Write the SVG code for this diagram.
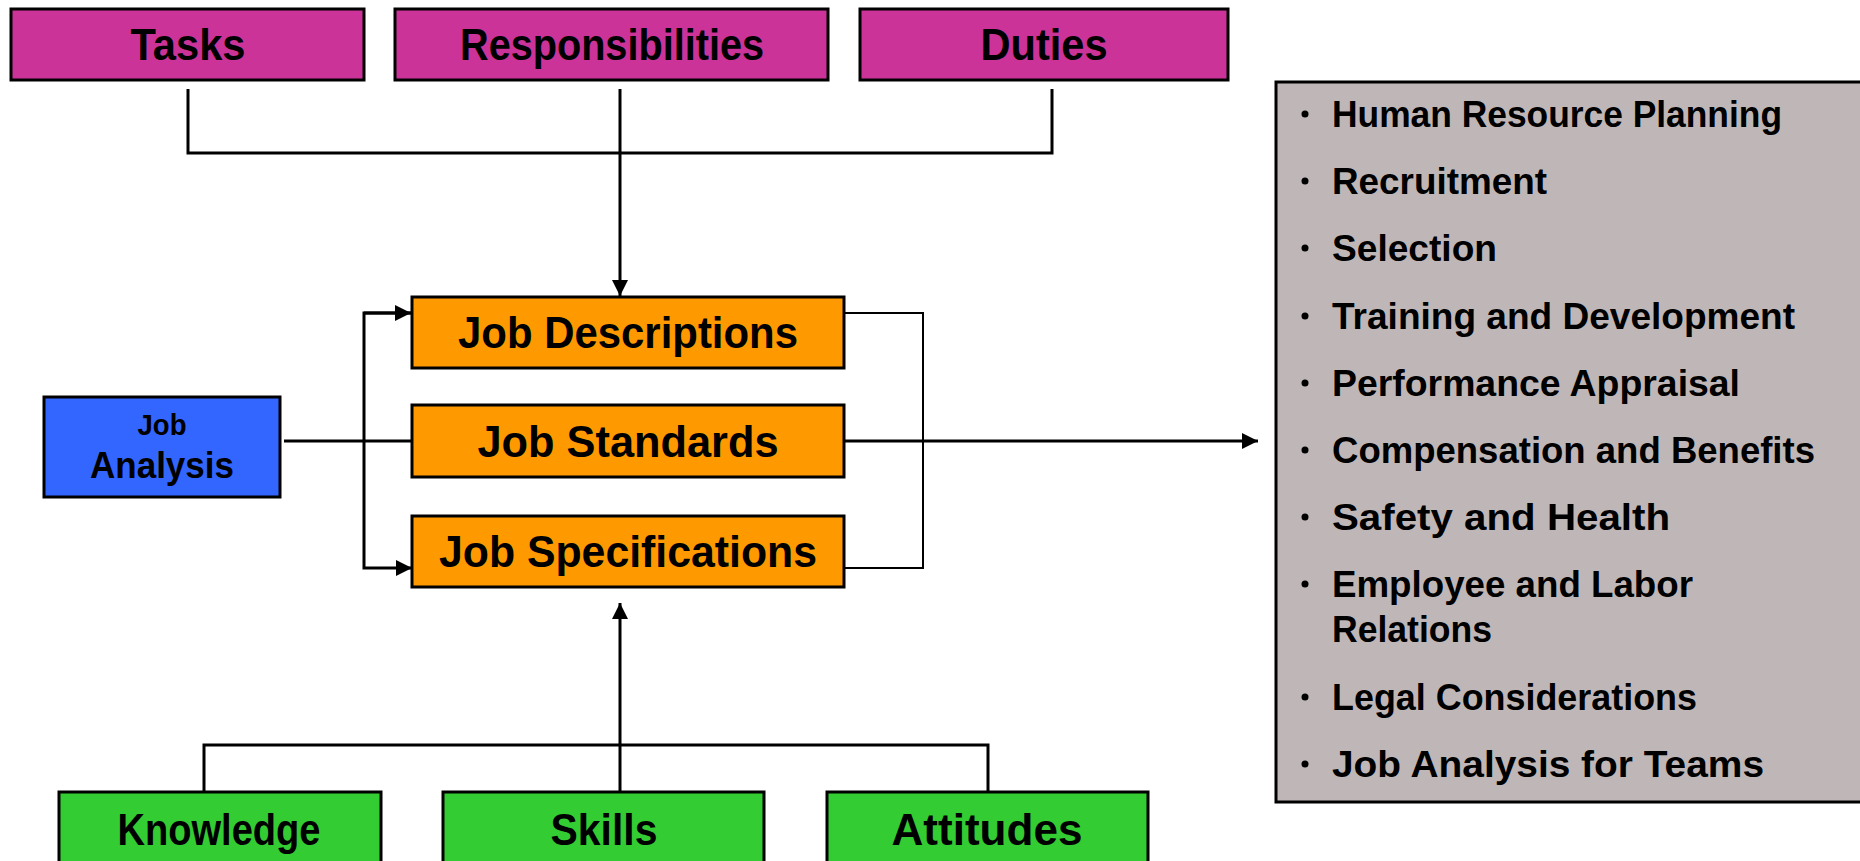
<svg xmlns="http://www.w3.org/2000/svg" width="1860" height="861" viewBox="0 0 1860 861">
<defs>
<style>
.box{stroke:#000;stroke-width:3}
.pink{fill:#CC3399}
.orange{fill:#FF9900}
.blue{fill:#3366FF}
.green{fill:#33CC33}
.gray{fill:#BFB7B7}
text{font-family:"Liberation Sans",Arial,sans-serif;font-weight:bold;fill:#000}
.lbl{font-size:44px;text-anchor:middle}
.lst{font-size:37px}
.ln{fill:none;stroke:#000;stroke-width:3}
.ln2{fill:none;stroke:#000;stroke-width:2}
</style>
<marker id="arr" viewBox="0 0 16 16" refX="16" refY="8" markerWidth="16" markerHeight="16" markerUnits="userSpaceOnUse" orient="auto">
<path d="M0,0 L16,8 L0,16 Z" fill="#000"/>
</marker>
</defs>
<rect width="1860" height="861" fill="#fff"/>

<g id="connectors">
<path class="ln" d="M188,89 V153 H1052 V89"/>
<path class="ln" d="M620,89 V296" marker-end="url(#arr)"/>
<path class="ln" d="M284,441 H412"/>
<path class="ln" d="M412,313 H364 V568 H412" marker-end="url(#arr)"/>
<path class="ln" d="M364,313 H411" marker-end="url(#arr)"/>
<path class="ln2" d="M844,313 H923 V568 H844"/>
<path class="ln" d="M844,441 H1258" marker-end="url(#arr)"/>
<path class="ln" d="M204,792 V745 H988 V792"/>
<path class="ln" d="M620,792 V603" marker-end="url(#arr)"/>
</g>

<g id="tasks"><rect class="box pink" x="11" y="9" width="353" height="71"/><text class="lbl" x="188" y="60" textLength="115" lengthAdjust="spacingAndGlyphs">Tasks</text></g>
<g id="responsibilities"><rect class="box pink" x="395" y="9" width="433" height="71"/><text class="lbl" x="612" y="60" textLength="304" lengthAdjust="spacingAndGlyphs">Responsibilities</text></g>
<g id="duties"><rect class="box pink" x="860" y="9" width="368" height="71"/><text class="lbl" x="1044" y="60" textLength="127" lengthAdjust="spacingAndGlyphs">Duties</text></g>

<g id="job-analysis"><rect class="box blue" x="44" y="397" width="236" height="100"/>
<text x="162" y="435" style="font-size:30px;text-anchor:middle" textLength="49" lengthAdjust="spacingAndGlyphs">Job</text>
<text x="162" y="478" style="font-size:37px;text-anchor:middle" textLength="144" lengthAdjust="spacingAndGlyphs">Analysis</text></g>

<g id="job-descriptions"><rect class="box orange" x="412" y="297" width="432" height="71"/><text class="lbl" x="628" y="348" textLength="340" lengthAdjust="spacingAndGlyphs">Job Descriptions</text></g>
<g id="job-standards"><rect class="box orange" x="412" y="405" width="432" height="72"/><text class="lbl" x="628" y="457" textLength="301" lengthAdjust="spacingAndGlyphs">Job Standards</text></g>
<g id="job-specifications"><rect class="box orange" x="412" y="516" width="432" height="71"/><text class="lbl" x="628" y="567" textLength="378" lengthAdjust="spacingAndGlyphs">Job Specifications</text></g>

<g id="knowledge"><rect class="box green" x="59" y="792" width="322" height="80"/><text class="lbl" x="219" y="845" textLength="203" lengthAdjust="spacingAndGlyphs">Knowledge</text></g>
<g id="skills"><rect class="box green" x="443" y="792" width="321" height="80"/><text class="lbl" x="604" y="845" textLength="107" lengthAdjust="spacingAndGlyphs">Skills</text></g>
<g id="attitudes"><rect class="box green" x="827" y="792" width="321" height="80"/><text class="lbl" x="987" y="845" textLength="191" lengthAdjust="spacingAndGlyphs">Attitudes</text></g>

<g id="hr-functions">
<rect class="box gray" x="1276" y="82" width="600" height="720"/>
<g fill="#000">
<circle cx="1305" cy="114" r="3.5"/>
<circle cx="1305" cy="181" r="3.5"/>
<circle cx="1305" cy="248" r="3.5"/>
<circle cx="1305" cy="316" r="3.5"/>
<circle cx="1305" cy="383" r="3.5"/>
<circle cx="1305" cy="450" r="3.5"/>
<circle cx="1305" cy="517" r="3.5"/>
<circle cx="1305" cy="584" r="3.5"/>
<circle cx="1305" cy="697" r="3.5"/>
<circle cx="1305" cy="764" r="3.5"/>
</g>
<text class="lst" x="1332" y="127" textLength="450" lengthAdjust="spacingAndGlyphs">Human Resource Planning</text>
<text class="lst" x="1332" y="194" textLength="215" lengthAdjust="spacingAndGlyphs">Recruitment</text>
<text class="lst" x="1332" y="261" textLength="165" lengthAdjust="spacingAndGlyphs">Selection</text>
<text class="lst" x="1332" y="329" textLength="463" lengthAdjust="spacingAndGlyphs">Training and Development</text>
<text class="lst" x="1332" y="396" textLength="408" lengthAdjust="spacingAndGlyphs">Performance Appraisal</text>
<text class="lst" x="1332" y="463" textLength="483" lengthAdjust="spacingAndGlyphs">Compensation and Benefits</text>
<text class="lst" x="1332" y="530" textLength="338" lengthAdjust="spacingAndGlyphs">Safety and Health</text>
<text class="lst" x="1332" y="597" textLength="361" lengthAdjust="spacingAndGlyphs">Employee and Labor</text>
<text class="lst" x="1332" y="642" textLength="160" lengthAdjust="spacingAndGlyphs">Relations</text>
<text class="lst" x="1332" y="710" textLength="365" lengthAdjust="spacingAndGlyphs">Legal Considerations</text>
<text class="lst" x="1332" y="777" textLength="432" lengthAdjust="spacingAndGlyphs">Job Analysis for Teams</text>
</g>
</svg>
